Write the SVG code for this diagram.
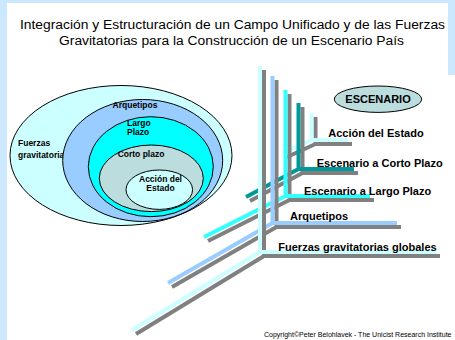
<svg xmlns="http://www.w3.org/2000/svg" width="455" height="340" viewBox="0 0 455 340">
<style>
.t{font-family:"Liberation Sans",Arial,sans-serif;fill:#000}
.title{font-size:12.5px;text-anchor:middle}
.lb{font-size:8.5px;font-weight:bold}
.rl{font-size:11px;font-weight:bold}
.ell{stroke:#000;stroke-width:1}
.sh{fill:none;stroke:#808080;stroke-width:4}
.ln{fill:none;stroke-width:4}
</style>
<rect x="0" y="0" width="455" height="340" fill="#cce8ff"/>
<rect x="7" y="3" width="448" height="337" fill="#ffffff"/>
<rect x="448" y="0" width="7" height="75" fill="#cce8ff"/>
<g id="title">
<text class="t title" x="232.5" y="29.3" textLength="425" lengthAdjust="spacingAndGlyphs">Integración y Estructuración de un Campo Unificado y de las Fuerzas</text>
<text class="t title" x="231.5" y="44.5" textLength="345" lengthAdjust="spacingAndGlyphs">Gravitatorias para la Construcción de un Escenario País</text>
</g>
<g id="fuerzas-ellipse">
<ellipse class="ell" cx="121" cy="155.5" rx="111" ry="70" fill="#ccffff"/>
<text class="t lb" x="18" y="146">Fuerzas</text>
<text class="t lb" x="18" y="157.5">gravitatorias</text>
</g>
<g id="arquetipos-ellipse">
<ellipse class="ell" cx="142.7" cy="160.5" rx="80" ry="61" fill="#99ccff"/>
<text class="t lb" x="135" y="107.5" text-anchor="middle">Arquetipos</text>
</g>
<g id="largo-ellipse">
<ellipse class="ell" cx="150.8" cy="166.7" rx="62.5" ry="50" fill="#00ffff"/>
<text class="t lb" x="127" y="125.7">Largo</text>
<text class="t lb" x="127" y="134.5">Plazo</text>
</g>
<g id="corto-ellipse">
<ellipse class="ell" cx="151.3" cy="178.3" rx="52" ry="33.3" fill="#bbdddd"/>
<text class="t lb" x="141" y="157.3" text-anchor="middle">Corto plazo</text>
</g>
<g id="accion-ellipse">
<ellipse class="ell" cx="159.3" cy="189.7" rx="33.3" ry="19.7" fill="#ccffff"/>
<text class="t lb" x="160.5" y="181.7" text-anchor="middle">Acción del</text>
<text class="t lb" x="160.5" y="190.7" text-anchor="middle">Estado</text>
</g>
<g id="escenario">
<ellipse class="ell" cx="378" cy="99.2" rx="43.7" ry="13.2" fill="#bbdddd"/>
<text class="t rl" x="378" y="102.8" text-anchor="middle">ESCENARIO</text>
</g>
<g id="connectors">
<path class="sh" d="M315.5,117 V144 H352 M315.5,144 L287,157"/>
<path class="ln" stroke="#ccffff" d="M311.5,113 V140 H348 M311.5,140 L283,153"/>
<path class="sh" d="M302.5,107 V173 H358 M302.5,173 L250,201"/>
<path class="ln" stroke="#009999" d="M298.5,103 V169 H354 M298.5,169 L246,197"/>
<path class="sh" d="M289.5,94 V200 H374 M289.5,200 L208,241"/>
<path class="ln" stroke="#33ffff" d="M285.5,90 V196 H370 M285.5,196 L204,237"/>
<path class="sh" d="M276.5,80 V227 H401 M276.5,227 L172,287"/>
<path class="ln" stroke="#99ccff" d="M272.5,76 V223 H397 M272.5,223 L168,283"/>
<path class="sh" d="M264,70 V256 H440 M264,256 L136,334"/>
<path class="ln" stroke="#ccffff" d="M260,66 V252 H437 M260,252 L132,330"/>
</g>
<g id="labels">
<text class="t rl" x="328.3" y="137.3">Acción del Estado</text>
<text class="t rl" x="316.7" y="167.3">Escenario a Corto Plazo</text>
<text class="t rl" x="304" y="195">Escenario a Largo Plazo</text>
<text class="t rl" x="290" y="220">Arquetipos</text>
<text class="t rl" x="278.3" y="250.7">Fuerzas gravitatorias globales</text>
</g>
<text class="t" x="451.5" y="337.3" font-size="7" text-anchor="end">Copyright©Peter Belohlavek - The Unicist Research Institute</text>
</svg>
